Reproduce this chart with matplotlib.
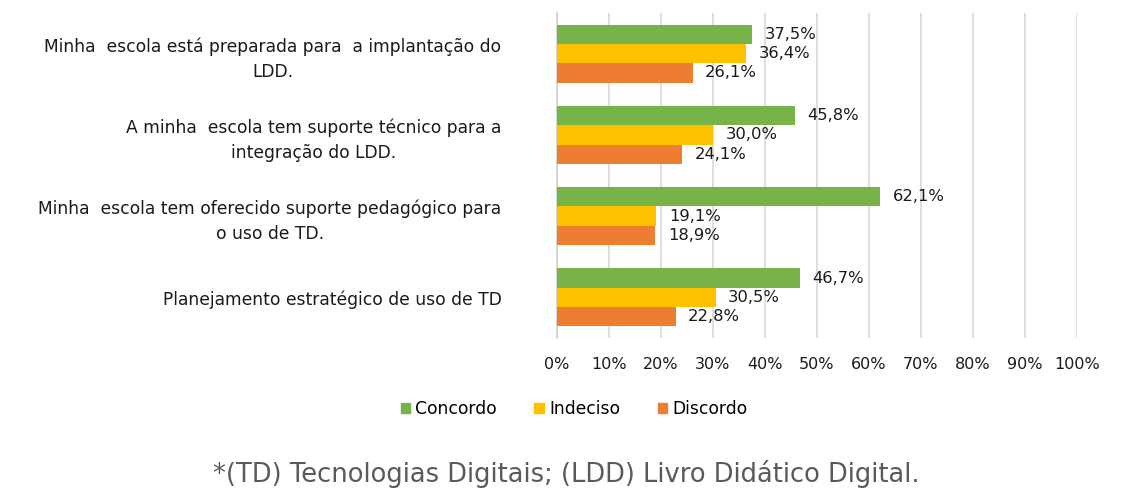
import numpy as np
import matplotlib.pyplot as plt
from matplotlib.patches import Patch

# Data
categories = [
    'Minha  escola está preparada para  a implantação do\nLDD.',
    'A minha  escola tem suporte técnico para a\nintegração do LDD.',
    'Minha  escola tem oferecido suporte pedagógico para\no uso de TD.',
    'Planejamento estratégico de uso de TD',
]
series_names = ['Concordo', 'Indeciso', 'Discordo']
concordo = [37.5, 45.8, 62.1, 46.7]
indeciso = [36.4, 30.0, 19.1, 30.5]
discordo = [26.1, 24.1, 18.9, 22.8]
x_ticks = [0, 10, 20, 30, 40, 50, 60, 70, 80, 90, 100]
footnote = '*(TD) Tecnologias Digitais; (LDD) Livro Didático Digital.'

colors = ['#78B34A', '#FFC000', '#ED7D31']
plt.rcParams['font.family'] = ['DejaVu Sans']
txt = '#1a1a1a'

fig = plt.figure(figsize=(11.32, 4.90), dpi=100)
ax = fig.add_axes([557 / 1132, 1 - 338 / 490, 520 / 1132, 325 / 490])

y = np.arange(len(categories))
h = 0.237
for i, (vals, col) in enumerate(zip([concordo, indeciso, discordo], colors)):
    pos = y + (i - 1) * h
    ax.barh(pos, vals, height=h, color=col, zorder=3)
    for p, v in zip(pos, vals):
        ax.annotate(f'{v:.1f}%'.replace('.', ','), (v, p), xytext=(9, 0),
                    textcoords='offset points', va='center', ha='left',
                    fontsize=11.8, color=txt)

ax.set_xlim(0, 100)
ax.set_ylim(3.5, -0.5)
ax.set_xticks(x_ticks)
ax.set_xticklabels([f'{t}%' for t in x_ticks], fontsize=11.5, color=txt)
ax.set_yticks(y)
ax.set_yticklabels(categories, fontsize=12.3, color=txt, multialignment='center',
                   linespacing=1.5)
ax.tick_params(axis='both', length=0)
ax.tick_params(axis='x', pad=14)
ax.tick_params(axis='y', pad=40)
ax.grid(axis='x', color='#D9D9D9', linewidth=1.2, zorder=0)
for s in ['top', 'right', 'bottom']:
    ax.spines[s].set_visible(False)
ax.spines['left'].set_color('#D0D0D0')
ax.spines['left'].set_linewidth(1.2)

handles = [Patch(color=c, label=n) for c, n in zip(colors, series_names)]
fig.legend(handles=handles, loc='center', bbox_to_anchor=(574 / 1132, 1 - 409 / 490),
           ncol=3, frameon=False, fontsize=12.3, handlelength=0.55, handleheight=0.55,
           handletextpad=0.3, columnspacing=2.2)

fig.text(0.5, 1 - 474 / 490, footnote, ha='center', va='center', fontsize=18.5,
         color='#5a5a5a')

fig.savefig('out.png', dpi=100, facecolor='white')
